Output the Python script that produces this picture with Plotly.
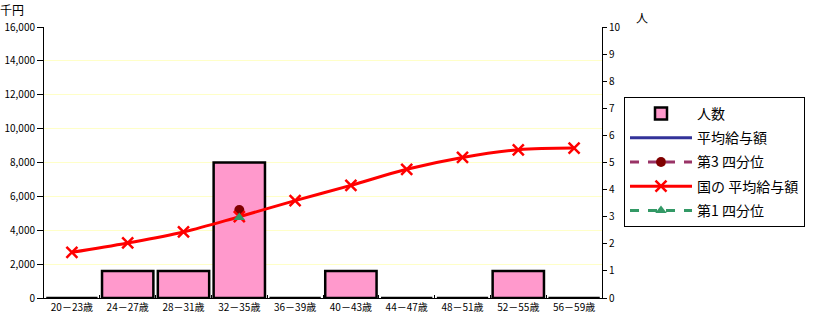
import plotly.graph_objects as go

categories = ["20－23歳", "24－27歳", "28－31歳", "32－35歳", "36－39歳",
              "40－43歳", "44－47歳", "48－51歳", "52－55歳", "56－59歳"]
headcount = [0, 1, 1, 5, 0, 1, 0, 0, 1, 0]
avg_salary = [None, None, None, 4950, None, None, None, None, None, None]
q3_salary = [None, None, None, 5200, None, None, None, None, None, None]
national_avg = [2700, 3250, 3900, 4800, 5750, 6650, 7600, 8300, 8750, 8850]
q1_salary = [None, None, None, 4750, None, None, None, None, None, None]

L, R, T, B = 44, 602, 27, 298
W, H = 824, 317

def px(x):
    return (x - L) / (R - L)

def py(y):
    return (B - y) / (B - T)

font_jp = "Noto Sans CJK JP, Arial, sans-serif"

fig = go.Figure()
fig.add_trace(go.Bar(x=categories, y=headcount, name="人数", yaxis="y",
                     marker=dict(color="#FF99CC", line=dict(color="black", width=2.5)),
                     legendgroup="a"))
fig.add_trace(go.Scatter(x=categories, y=avg_salary, name="平均給与額", yaxis="y2",
                         mode="lines", line=dict(color="#333399", width=3),
                         legendgroup="b"))
fig.add_trace(go.Scatter(x=categories, y=q3_salary, name="第3 四分位", yaxis="y2",
                         mode="lines+markers",
                         line=dict(color="#993366", width=3, dash="dash"),
                         marker=dict(symbol="circle", size=10, color="#800000"),
                         legendgroup="c"))
fig.add_trace(go.Scatter(x=categories, y=national_avg, name="国の 平均給与額", yaxis="y2",
                         mode="lines+markers",
                         line=dict(color="#FF0000", width=3, shape="spline"),
                         marker=dict(symbol="x-thin", size=11,
                                     line=dict(color="#FF0000", width=2.5)),
                         legendgroup="d"))
fig.add_trace(go.Scatter(x=categories, y=q1_salary, name="第1 四分位", yaxis="y2",
                         mode="lines+markers",
                         line=dict(color="#339966", width=3, dash="dash"),
                         marker=dict(symbol="triangle-up", size=10, color="#339966"),
                         legendgroup="e"))

fig.update_layout(
    width=W, height=H,
    margin=dict(l=L, r=W - R, t=T, b=H - B, pad=0, autoexpand=False),
    paper_bgcolor="white", plot_bgcolor="white",
    font=dict(family=font_jp, size=10, color="black"),
    bargap=0.08,
    showlegend=True,
    legend=dict(x=px(624), y=py(97), xanchor="left", yanchor="top",
                bordercolor="black", borderwidth=1, bgcolor="white",
                font=dict(family=font_jp, size=14, color="black"),
                itemwidth=62, tracegroupgap=3, traceorder="grouped"),
    xaxis=dict(type="category", range=[-0.5, 9.5], showline=True, linecolor="black",
               linewidth=1, ticks="inside", ticklen=3, tickcolor="black",
               tickson="boundaries", showgrid=False, automargin=False,
               tickfont=dict(family=font_jp, size=10)),
    yaxis=dict(side="right", range=[0, 10], dtick=1, showgrid=False, zeroline=False,
               showline=True, linecolor="black", linewidth=1, automargin=False,
               ticks="outside", ticklen=4, tickcolor="black",
               tickfont=dict(family=font_jp, size=10)),
    yaxis2=dict(side="left", overlaying="y", range=[0, 16000], dtick=2000,
                tickformat=",d", showgrid=True, gridcolor="#FFFFC8", gridwidth=1,
                zeroline=False, showline=True, linecolor="black", linewidth=1,
                automargin=False, ticks="outside", ticklen=6, tickcolor="black",
                tickfont=dict(family=font_jp, size=10)),
    annotations=[
        dict(text="千円", x=px(12), y=py(9), xref="paper", yref="paper",
             xanchor="center", yanchor="middle",
             showarrow=False, font=dict(family=font_jp, size=12)),
        dict(text="人", x=px(642), y=py(17), xref="paper", yref="paper",
             xanchor="center", yanchor="middle",
             showarrow=False, font=dict(family=font_jp, size=12)),
    ],
)

fig.write_html("out.html")
